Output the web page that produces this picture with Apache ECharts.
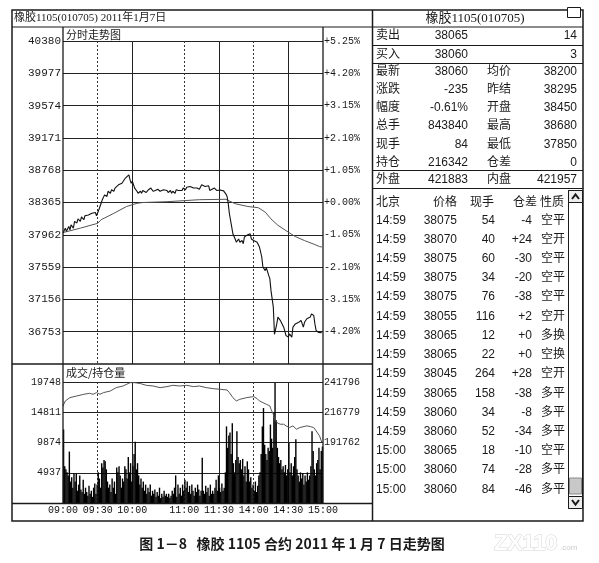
<!DOCTYPE html>
<html><head><meta charset="utf-8">
<script src="https://cdn.jsdelivr.net/npm/echarts@6/dist/echarts.min.js"></script>
<style>html,body{margin:0;padding:0;background:#fff}#c{width:599px;height:563px}</style>
</head><body><div id="c"></div>
<script>
// ---------- texts ----------
const windowTitle = '橡胶1105(010705) 2011年1月7日';
const pricePanelTitle = '分时走势图';
const volPanelTitle = '成交/持仓量';
const caption = '图 1－8   橡胶 1105 合约 2011 年 1 月 7 日走势图';
const watermark = 'ZX110';
const watermarkSuffix = '.com';

// ---------- axes ----------
const prevSettle = 38365;
const priceMin = 36350, priceMax = 40380;
const priceTicks = [36753, 37156, 37559, 37962, 38365, 38768, 39171, 39574, 39977, 40380];
const volMax = 19748;
const volTicks = [4937, 9874, 14811, 19748];
const oiMin = 141728, oiMax = 241796;
const oiTicks = [191762, 216779, 241796];
const sessionMinutes = 225;
const timeTickMinutes = [0, 30, 60, 105, 135, 165, 195, 225];
const timeTickLabels = ['09:00', '09:30', '10:00', '11:00', '11:30', '14:00', '14:30', '15:00'];
const solidGridMinutes = [60, 135, 195];
const dashedGridMinutes = [30, 105, 165];

// ---------- price (minute index, price) ----------
const priceMinutes = [0,2,3,5,6,7,9,10,12,13,15,16,18,19,20,22,23,25,26,28,29,30,31,33,34,36,38,39,41,42,44,45,46,48,49,51,52,54,55,57,58,59,60,62,64,65,67,68,69,72,74,76,78,
  80,81,82,84,85,87,88,90,91,93,94,95,97,98,100,101,103,104,106,107,108,110,111,113,114,116,117,118,120,121,123,124,126,127,129,130,131,133,134,136,137,139,140,141,142,
  143,144,146,147,149,150,152,153,155,156,157,159,160,162,163,165,166,168,169,170,172,173,175,176,178,179,180,182,183,185,186,188,189,191,192,193,195,196,198,199,201,202,204,205,206,208,209,211,212,214,215,217,218,219,221,222,224];
const prices = [37985,38045,38005,38065,38025,38085,38045,38130,38110,38160,38130,38185,38150,38200,38185,38210,38190,38230,38210,38240,38200,38210,38275,38355,38400,38460,38440,38505,38480,38525,38505,38545,38525,38585,38565,38605,38585,38670,38650,38710,38650,38605,38630,38545,38505,38480,38505,38480,38515,38490,38525,38545,38505,
  38515,38505,38530,38505,38515,38525,38505,38515,38490,38515,38480,38505,38480,38525,38515,38530,38515,38545,38525,38555,38545,38565,38555,38545,38565,38545,38555,38530,38585,38605,38565,38545,38575,38515,38530,38525,38545,38515,38530,38520,38535,38510,38490,38470,38440,
  38350,38225,38060,37975,37910,37870,37910,37870,37890,37850,37935,37955,37935,37975,37910,37890,37910,37870,37890,37810,37685,37560,37515,37550,37455,37415,37265,37060,36720,36850,36935,36895,36895,36810,36790,36705,36685,36725,36685,36810,36850,36830,36870,36850,36895,36810,36870,36915,36895,36935,36975,36955,36850,36770,36745,36735,36740];

// ---------- average price ----------
const avgMinutes = [0,15,30,33,44,55,64,69,90,118,141,143,149,160,169,175,180,186,195,201,209,218,222,224];
const avgPrices = [37990,38045,38105,38150,38230,38315,38355,38365,38375,38400,38405,38390,38350,38315,38300,38245,38160,38080,37995,37940,37890,37840,37815,37810];

// ---------- volume per minute ----------
const volumes = [
  12000,6000,5500,5000,4500,8400,3500,4200,2500,4800,
  3500,4800,2000,3000,4500,2200,1800,3800,1500,2500,
  1800,1200,2800,1500,2000,1000,2500,3200,1500,3000,
  5000,4000,2500,6500,5800,7000,6800,5500,3500,2500,
  3000,1800,4000,2500,3500,1500,5800,5000,6000,4500,
  2500,4000,3500,6000,5500,4000,7500,5000,6500,3500,
  6000,8000,10000,5500,6500,4500,3000,4000,2500,3500,
  2000,3000,1500,2500,1800,3000,1200,2000,1500,2200,
  1000,1800,1200,2500,800,1500,1000,2000,1200,1500,
  1000,1500,800,1200,2000,1500,2500,4500,1000,3000,
  1500,2500,1200,3000,2000,3800,2500,3500,1800,2800,
  1500,3000,2000,1200,2500,1800,3000,2200,1200,2000,
  7400,2000,1500,2800,1800,2500,1200,3000,1500,2000,
  1500,2500,3800,2000,4500,2500,1800,3200,2000,2500,
  5000,12500,9000,11000,11500,8000,13000,6500,5000,7000,
  11700,7500,6500,7000,5500,7200,4500,6000,3500,6800,
  5500,3500,4200,2500,3000,2000,3500,1800,2800,4500,
  5000,8000,12500,15500,9500,8000,7000,9000,8500,12800,
  10500,9000,14700,19600,13500,9000,7500,6500,7000,5500,
  6000,5000,6200,4500,5500,9800,5000,6500,4500,6000,
  7500,10400,5500,4500,3500,5000,4000,4800,3000,4500,
  3500,5000,3800,4500,6000,11700,8500,5500,4500,6500,
  7000,9000,5500,8500,9200];

// ---------- open interest ----------
const oiMinutes = [0,2,6,12,18,23,26,29,32,35,41,46,52,58,59,62,67,72,78,84,90,95,101,107,113,118,124,130,136,142,144,147,150,153,159,165,168,170,173,176,179,180,182,183,185,188,191,193,196,199,202,205,211,214,217,219,222,224];
const oiValues = [222000,226130,228880,230250,231625,232450,231625,233000,231625,233000,234375,237125,238500,241250,241800,241250,240500,239050,238500,237125,237950,239050,238500,239050,237950,238500,237125,236300,235750,235200,233000,228880,226130,227500,228880,229700,228050,226130,224750,223380,222000,219250,215130,211000,208260,206880,206880,205510,204130,205510,202760,204130,205510,204960,204130,201385,197260,191765];

// ---------- quote table ----------
const quoteTitle = '橡胶1105(010705)';
const bidAskRows = [['卖出', '38065', '14'], ['买入', '38060', '3']];
const quoteRows = [
  ['最新', '38060', '均价', '38200'],
  ['涨跌', '-235', '昨结', '38295'],
  ['幅度', '-0.61%', '开盘', '38450'],
  ['总手', '843840', '最高', '38680'],
  ['现手', '84', '最低', '37850'],
  ['持仓', '216342', '仓差', '0']];
const outerInnerRow = ['外盘', '421883', '内盘', '421957'];
const tradeHeader = ['北京', '价格', '现手', '仓差', '性质'];
const tradeTimes = ['14:59','14:59','14:59','14:59','14:59','14:59','14:59','14:59','14:59','14:59','14:59','14:59','15:00','15:00','15:00'];
const tradePrices = ['38075','38070','38075','38075','38075','38055','38065','38065','38045','38065','38060','38060','38065','38060','38060'];
const tradeVols = ['54','40','60','34','76','116','12','22','264','158','34','52','18','74','84'];
const tradeOIChg = ['-4','+24','-30','-20','-38','+2','+0','+0','+28','-38','-8','-34','-10','-28','-46'];
const tradeKinds = ['空平','空开','空平','空平','空平','空开','多换','空换','空开','多平','多平','多平','空平','多平','多平'];

// ---------- build ----------
const pair = (xs, ys) => xs.map((x, i) => [x, ys[i]]);
const pricePairs = pair(priceMinutes, prices);
const avgPairs = pair(avgMinutes, avgPrices);
const oiPairs = pair(oiMinutes, oiValues);
const volPairs = volumes.map((v, i) => [i + 0.5, v]);

const INK = '#1a1a1a';
const MONO = '"Liberation Mono","DejaVu Sans Mono",monospace';
const SANS = '"Liberation Sans","Noto Sans CJK SC",sans-serif';
const CJK = '"Noto Sans CJK SC",sans-serif';

function T(x, y, s, font, align, fill, stroke) {
  const st = { text: s, font: font, fill: fill || INK, align: align || 'left', textAlign: align || 'left',
      verticalAlign: 'middle', textVerticalAlign: 'middle' };
  if (stroke) { st.stroke = stroke; st.lineWidth = 1; }
  return { type: 'text', x: x, y: y, z: 10, style: st };
}
function L(x1, y1, x2, y2, w, c) {
  return { type: 'line', z: 9, shape: { x1: x1, y1: y1, x2: x2, y2: y2 },
    style: { stroke: c || INK, lineWidth: w || 1 } };
}

const g = [];
// outer frame and panel lines
g.push({ type: 'rect', z: 8, shape: { x: 12, y: 10, width: 571, height: 511 }, style: { fill: 'none', stroke: INK, lineWidth: 1.5 } });
g.push(L(12, 27, 583, 27, 1.2));
g.push(L(372.5, 10, 372.5, 521, 1.5));
g.push(L(12, 364, 372, 364, 1.5));
g.push(L(12, 503.5, 372, 503.5, 1.5));
g.push(L(63, 27, 63, 503, 1.3));
g.push(L(323, 27, 323, 503, 1.3));
// left panel texts
g.push(T(14, 18.5, windowTitle, '11px "Liberation Serif","Noto Sans CJK SC",serif'));
g.push(T(66, 34.5, pricePanelTitle, '11px ' + CJK));
g.push(T(66, 373, volPanelTitle, '11px ' + CJK));
// table
g.push(T(475, 18.5, quoteTitle, '13px "Liberation Serif","Noto Sans CJK SC",serif', 'center'));
g.push({ type: 'rect', z: 10, shape: { x: 567.5, y: 7.5, width: 13, height: 10 }, style: { fill: '#fff', stroke: INK, lineWidth: 1 } });
g.push(L(568, 9, 580, 9, 2.5));
g.push(L(372, 45.5, 583, 45.5, 1.2));
g.push(L(372, 63.5, 583, 63.5, 1.2));
g.push(L(372, 170.5, 583, 170.5, 1.2));
g.push(L(372, 188.5, 583, 188.5, 1.2));
const rowFont = '12px ' + SANS;
const bidAskY = [36, 55];
bidAskRows.forEach((r, i) => {
  g.push(T(376, bidAskY[i], r[0], rowFont));
  g.push(T(468, bidAskY[i], r[1], rowFont, 'right'));
  g.push(T(577, bidAskY[i], r[2], rowFont, 'right'));
});
quoteRows.forEach((r, i) => {
  const y = 72 + i * 18.05;
  g.push(T(376, y, r[0], rowFont));
  g.push(T(468, y, r[1], rowFont, 'right'));
  g.push(T(487, y, r[2], rowFont));
  g.push(T(577, y, r[3], rowFont, 'right'));
});
g.push(T(376, 180, outerInnerRow[0], rowFont));
g.push(T(468, 180, outerInnerRow[1], rowFont, 'right'));
g.push(T(487, 180, outerInnerRow[2], rowFont));
g.push(T(577, 180, outerInnerRow[3], rowFont, 'right'));
// trades
g.push(T(376, 203, tradeHeader[0], rowFont));
g.push(T(457, 203, tradeHeader[1], rowFont, 'right'));
g.push(T(494, 203, tradeHeader[2], rowFont, 'right'));
g.push(T(537, 203, tradeHeader[3], rowFont, 'right'));
g.push(T(540, 203, tradeHeader[4], rowFont));
tradeTimes.forEach((t, i) => {
  const y = 220.3 + i * 19.22;
  g.push(T(376, y, t, rowFont));
  g.push(T(457, y, tradePrices[i], rowFont, 'right'));
  g.push(T(495, y, tradeVols[i], rowFont, 'right'));
  g.push(T(532, y, tradeOIChg[i], rowFont, 'right'));
  g.push(T(541, y, tradeKinds[i], rowFont));
});
// scrollbar
g.push({ type: 'rect', z: 9, shape: { x: 568.5, y: 190.5, width: 14, height: 318 }, style: { fill: '#fff', stroke: INK, lineWidth: 1 } });
g.push({ type: 'rect', z: 10, shape: { x: 568.5, y: 190.5, width: 14, height: 12 }, style: { fill: '#eee', stroke: INK, lineWidth: 1 } });
g.push({ type: 'polyline', z: 11, shape: { points: [[572, 199], [575.5, 194.5], [579, 199]] }, style: { stroke: INK, lineWidth: 2, fill: 'none' } });
g.push({ type: 'rect', z: 10, shape: { x: 568.5, y: 496.5, width: 14, height: 12 }, style: { fill: '#eee', stroke: INK, lineWidth: 1 } });
g.push({ type: 'polyline', z: 11, shape: { points: [[572, 500], [575.5, 504.5], [579, 500]] }, style: { stroke: INK, lineWidth: 2, fill: 'none' } });
g.push({ type: 'rect', z: 10, shape: { x: 569.5, y: 478, width: 12, height: 16 }, style: { fill: '#c8c8c8', stroke: '#888', lineWidth: 1 } });
// caption and watermark
g.push(T(292, 544, caption, 'bold 14px "Noto Sans CJK SC",sans-serif', 'center'));
g.push(T(494, 544, watermark, 'bold 22px "Liberation Sans",sans-serif', 'left', '#fff', '#d4d4d4'));
g.push(T(560, 548, watermarkSuffix, '8px "Liberation Sans",sans-serif', 'left', '#ccc'));

const priceFmt = v => String(v);
const pctFmt = v => {
  const p = (v - prevSettle) / prevSettle * 100;
  return (p >= 0 ? '+' : '-') + Math.abs(p).toFixed(2) + '%';
};
const splitSolid = { show: true, lineStyle: { color: '#222', width: 1, type: 'solid' } };
const splitDash = { show: true, lineStyle: { color: '#333', width: 1, type: [2, 2] } };
const noLine = { show: false };

const option = {
  animation: false,
  backgroundColor: '#fff',
  grid: [
    { left: 63, top: 41, width: 260, height: 323, containLabel: false },
    { left: 63, top: 382, width: 260, height: 121, containLabel: false }
  ],
  xAxis: [
    { type: 'value', gridIndex: 0, min: 0, max: sessionMinutes, position: 'bottom',
      axisLine: noLine, axisTick: { show: false, customValues: solidGridMinutes }, axisLabel: { show: false }, splitLine: splitSolid },
    { type: 'value', gridIndex: 0, min: 0, max: sessionMinutes, position: 'top',
      axisLine: noLine, axisTick: { show: false, customValues: dashedGridMinutes }, axisLabel: { show: false }, splitLine: splitDash },
    { type: 'value', gridIndex: 1, min: 0, max: sessionMinutes, position: 'bottom',
      axisLine: noLine, axisTick: { show: false, customValues: solidGridMinutes },
      axisLabel: { show: true, customValues: timeTickMinutes, margin: 2, color: '#111', fontFamily: MONO, fontSize: 10,
        formatter: v => timeTickLabels[timeTickMinutes.indexOf(v)] },
      splitLine: splitSolid },
    { type: 'value', gridIndex: 1, min: 0, max: sessionMinutes, position: 'top',
      axisLine: noLine, axisTick: { show: false, customValues: dashedGridMinutes }, axisLabel: { show: false }, splitLine: splitDash }
  ],
  yAxis: [
    { type: 'value', gridIndex: 0, min: priceMin, max: priceMax, position: 'left',
      axisLine: noLine, axisTick: { show: false, customValues: priceTicks },
      axisLabel: { customValues: priceTicks, formatter: priceFmt, margin: 2, color: INK, fontFamily: MONO, fontSize: 11, padding: [4, 0, 0, 0] },
      splitLine: splitSolid },
    { type: 'value', gridIndex: 0, min: priceMin, max: priceMax, position: 'right',
      axisLine: noLine, axisTick: { show: true, length: 3, customValues: priceTicks, lineStyle: { color: INK } },
      axisLabel: { customValues: priceTicks, formatter: pctFmt, margin: 1, color: INK, fontFamily: MONO, fontSize: 10 },
      splitLine: { show: false } },
    { type: 'value', gridIndex: 1, min: 0, max: volMax, position: 'left',
      axisLine: noLine, axisTick: { show: false, customValues: volTicks },
      axisLabel: { customValues: volTicks, formatter: priceFmt, margin: 2, color: INK, fontFamily: MONO, fontSize: 10, padding: [3, 0, 0, 0] },
      splitLine: splitSolid },
    { type: 'value', gridIndex: 1, min: oiMin, max: oiMax, position: 'right',
      axisLine: noLine, axisTick: { show: false, customValues: oiTicks },
      axisLabel: { customValues: oiTicks, formatter: priceFmt, margin: 1, color: INK, fontFamily: MONO, fontSize: 10 },
      splitLine: { show: false } }
  ],
  series: [
    { name: '均价', type: 'line', xAxisIndex: 0, yAxisIndex: 0, data: avgPairs, showSymbol: false, symbol: 'none',
      lineStyle: { color: '#555', width: 1 }, z: 3 },
    { name: '价格', type: 'line', xAxisIndex: 0, yAxisIndex: 0, data: pricePairs, showSymbol: false, symbol: 'none',
      lineStyle: { color: '#111', width: 1.1 }, z: 4 },
    { name: '成交量', type: 'bar', xAxisIndex: 2, yAxisIndex: 2, data: volPairs, barWidth: 1.4,
      itemStyle: { color: '#000' }, z: 3 },
    { name: '持仓量', type: 'line', xAxisIndex: 2, yAxisIndex: 3, data: oiPairs, showSymbol: false, symbol: 'none',
      lineStyle: { color: '#555', width: 1 }, z: 4 }
  ],
  graphic: { elements: g }
};
const chart = echarts.init(document.getElementById('c'), null, { renderer: 'canvas' });
chart.setOption(option);
</script>
</body></html>
